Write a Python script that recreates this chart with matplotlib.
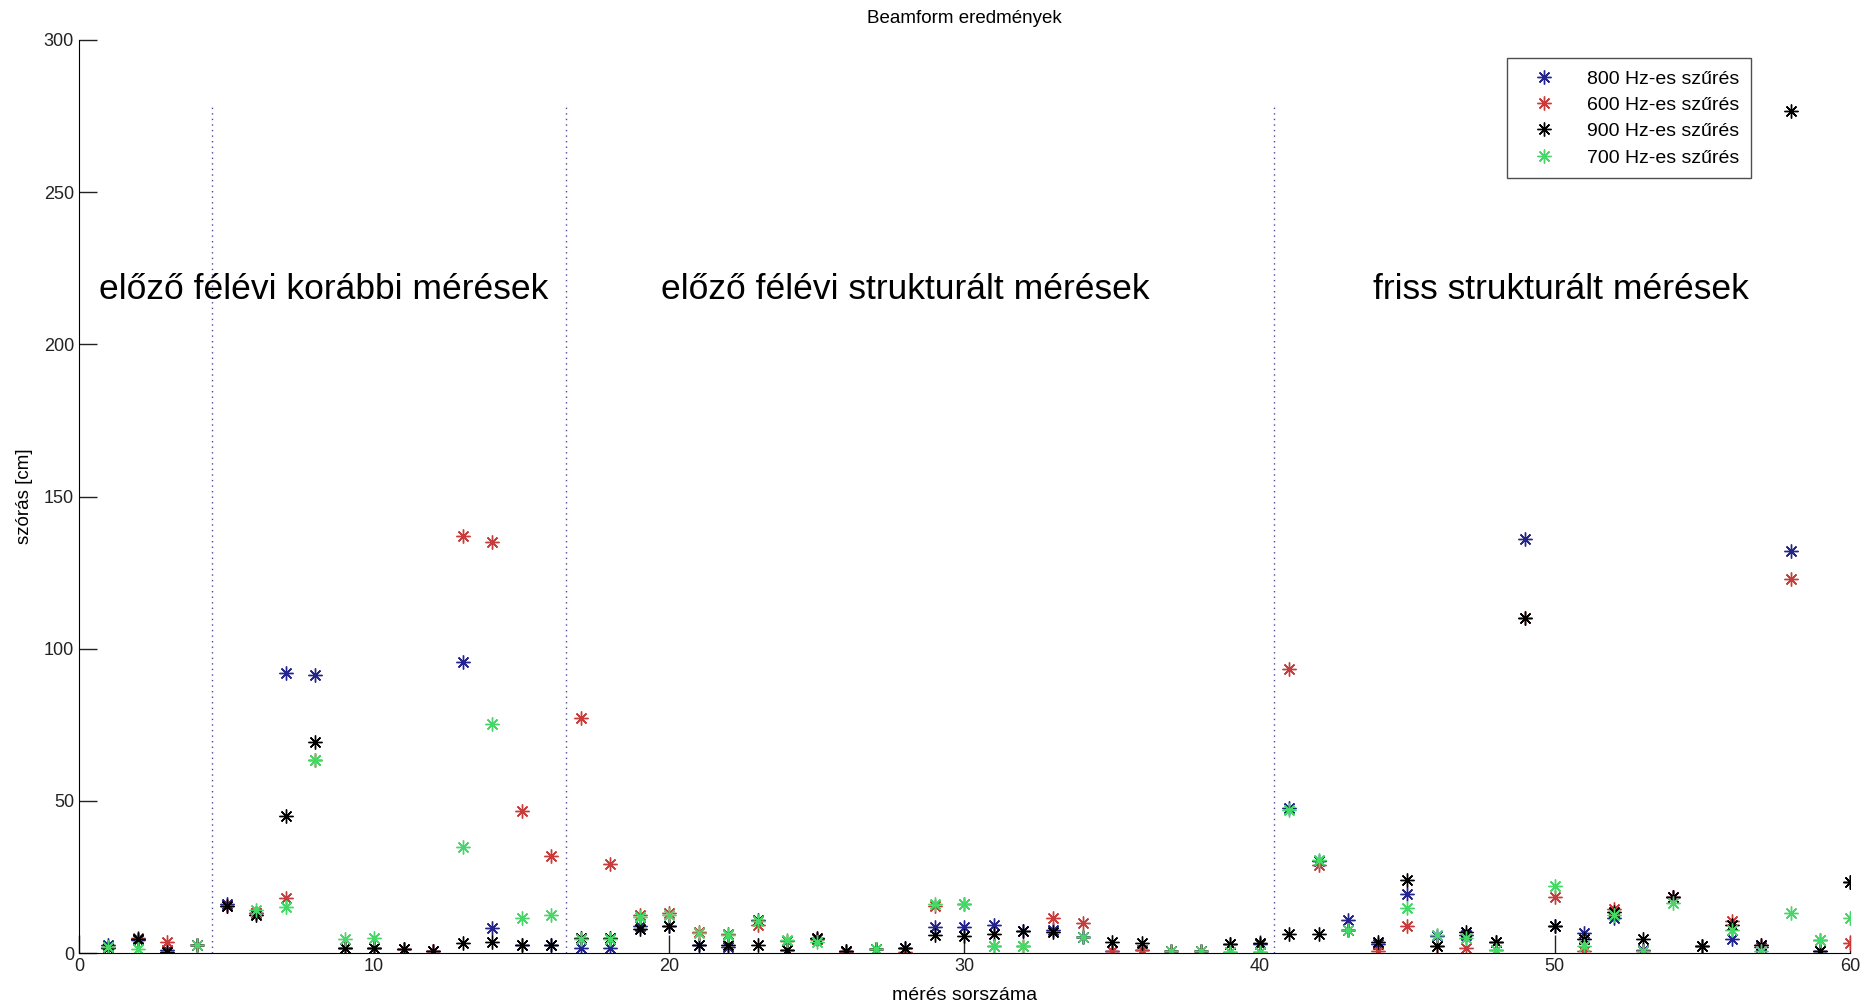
import numpy as np
import matplotlib
matplotlib.use("Agg")
import matplotlib.pyplot as plt

plt.rcParams["font.family"] = ["Liberation Sans", "DejaVu Sans"]

# measurement index 1..60
meres = np.arange(1, 61)
nan = np.nan

szoras_800 = [2.5, 4.2, 1.0, 2.5, 16.0, 13.0, 92.0, 91.4, 1.5, 1.5,
              1.2, 0.6, 95.7, 8.1, 2.6, 2.6, 1.5, 1.5, 8.9, 9.0,
              2.6, 2.0, 10.8, 1.0, 4.5, 0.6, 1.2, 1.5, 8.7, 8.5,
              9.2, 7.3, 7.6, 5.3, 0.8, 1.0, 0.8, 0.6, 3.0, 3.0,
              47.5, 30.3, 10.8, 3.0, 19.3, 5.5, 6.0, 3.5, 135.9, 8.9,
              6.5, 11.5, 1.0, 18.5, 2.4, 4.6, 2.0, 132.1, 0.8, 23.4]
szoras_600 = [2.0, 4.8, 3.7, 2.5, 15.5, 13.0, 18.0, 63.4, 1.5, 1.5,
              1.2, 0.6, 137.0, 135.2, 46.7, 32.0, 77.1, 29.1, 12.5, 13.0,
              7.0, 6.4, 9.2, 4.0, 4.5, 0.5, 1.2, 0.5, 15.6, 16.0,
              2.3, 2.2, 11.6, 10.0, 0.8, 1.0, 0.8, 0.6, 0.5, 0.3,
              93.3, 29.0, 7.6, 0.8, 9.0, 2.4, 1.5, 1.0, 110.2, 18.3,
              0.6, 14.5, 0.8, 18.5, 2.4, 10.5, 2.6, 122.8, 4.3, 3.2]
szoras_900 = [1.5, 4.6, 0.5, 2.5, 15.4, 12.5, 45.1, 69.2, 1.5, 1.5,
              1.2, 0.6, 3.2, 3.5, 2.6, 2.6, 5.0, 5.0, 8.0, 9.0,
              2.6, 2.6, 2.8, 1.0, 5.0, 0.6, 1.2, 1.5, 5.9, 5.7,
              6.4, 7.3, 6.8, 5.3, 3.7, 3.3, 0.8, 0.6, 3.0, 3.3,
              6.1, 6.4, 7.6, 3.5, 24.0, 2.4, 7.0, 3.5, 110.2, 8.9,
              4.6, 13.5, 4.6, 18.5, 2.4, 9.1, 2.6, 276.5, 0.8, 23.4]
szoras_700 = [2.0, 1.3, nan, 2.5, nan, 14.1, 15.2, 63.4, 4.5, 4.8,
              nan, nan, 34.9, 75.1, 11.4, 12.5, 4.5, 4.5, 12.0, 12.5,
              6.7, 6.0, 10.5, 4.3, 3.5, nan, 1.2, nan, 16.0, 16.2,
              2.3, 2.2, nan, 5.3, nan, nan, 0.8, 0.6, 0.2, 0.3,
              47.0, 30.5, 7.6, nan, 14.9, 6.0, 5.0, 1.0, nan, 22.1,
              2.3, 12.5, 0.8, 16.5, nan, 7.5, 0.6, 13.0, 4.3, 11.4]

series = [("800 Hz-es szűrés", szoras_800, "#24248c"),
          ("600 Hz-es szűrés", szoras_600, "#c83c3c"),
          ("900 Hz-es szűrés", szoras_900, "#000000"),
          ("700 Hz-es szűrés", szoras_700, "#44d866")]

hatarok = [4.5, 16.5, 40.5]
csoportok = [(8.3, "előző félévi korábbi mérések"),
             (28.0, "előző félévi strukturált mérések"),
             (50.2, "friss strukturált mérések")]

fig = plt.figure(figsize=(18.66, 10.07), dpi=100)
ax = fig.add_axes([0.0423, 0.0536, 0.9491, 0.9067])

for name, vals, col in series:
    ax.plot(meres, vals, linestyle="none", marker=(8, 2, 0), markersize=10,
            markeredgewidth=1.0, color=col, label=name)

for x in hatarok:
    ax.plot([x, x], [0, 278], color="#4a4aa0", lw=1.0, ls=(0, (1, 3)))

for x, txt in csoportok:
    ax.text(x, 218, txt, ha="center", va="center", fontsize=25.5, color="black")

ax.set_xlim(0, 60)
ax.set_ylim(0, 300)
ax.set_xticks(range(0, 61, 10))
ax.set_yticks(range(0, 301, 50))
ax.spines["top"].set_visible(False)
ax.spines["right"].set_visible(False)
ax.tick_params(direction="in", length=13, width=1, labelsize=13, colors="#222222")
ax.set_title("Beamform eredmények", fontsize=13.5, pad=12)
ax.set_xlabel("mérés sorszáma", fontsize=14, labelpad=9)
ax.set_ylabel("szórás [cm]", fontsize=13.5, labelpad=8)

leg = ax.legend(loc="upper right", bbox_to_anchor=(0.944, 0.98), borderaxespad=0,
                fontsize=14, fancybox=False, edgecolor="#222222", handlelength=2.6,
                labelspacing=0.45, borderpad=0.6, handletextpad=0.9)
leg.get_frame().set_linewidth(1.0)

fig.savefig("out.png", dpi=100)
